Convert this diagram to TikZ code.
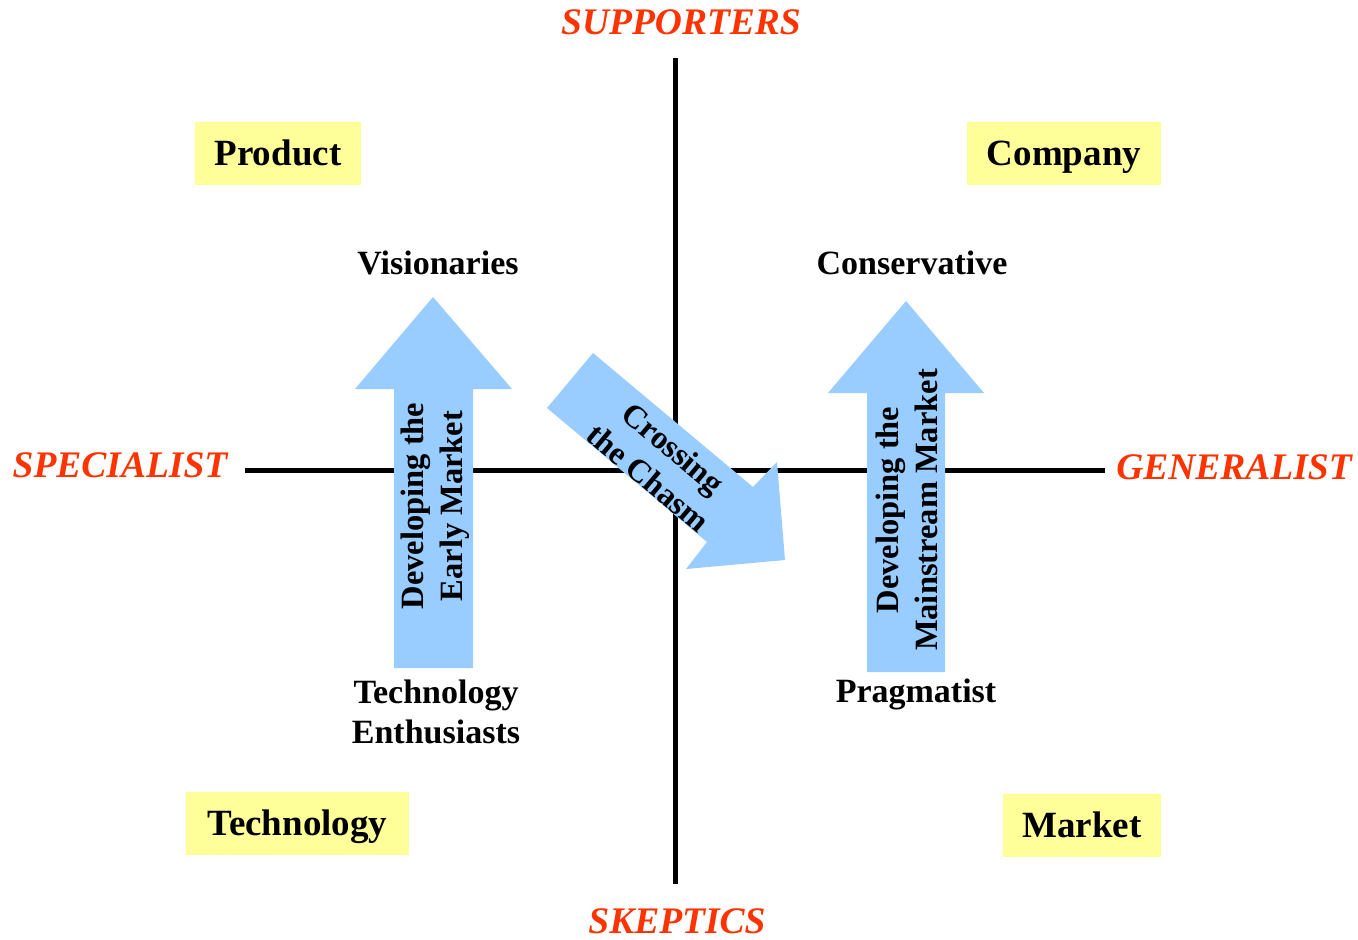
\documentclass[tikz,border=0pt]{standalone}
\usepackage{fontspec}
\setmainfont{Liberation Serif}
\definecolor{axred}{HTML}{FF3300}
\definecolor{boxyel}{HTML}{FFFF99}
\definecolor{arrblue}{HTML}{99CCFF}
\begin{document}
\begin{tikzpicture}[x=1pt,y=-1pt,
  axis/.style={line width=5pt,black},
  axlabel/.style={text=axred,font=\fontsize{37.5}{40}\selectfont\bfseries\itshape,inner sep=0pt},
  quadbox/.style={fill=boxyel,inner sep=0pt,minimum height=63pt,text height=24.4pt,text depth=0pt,font=\fontsize{37}{40}\selectfont\bfseries},
  lbl/.style={inner sep=0pt,font=\fontsize{34}{40}\selectfont\bfseries,align=center},
  onelbl/.style={lbl,text height=22.4pt,text depth=0pt},
  arrtext/.style={inner sep=0pt,font=\fontsize{32.5}{39}\selectfont\bfseries,align=center},
  bigarrow/.style={fill=arrblue,draw=none}]
\useasboundingbox (0,0) rectangle (1358,940);
% axes
\coordinate (vt) at (675,58);
\coordinate (vb) at (675,884);
\coordinate (hl) at (245,470);
\coordinate (hr) at (1105,470);
\draw[axis] (vt) -- (vb);
\draw[axis] (hl) -- (hr);
% axis labels
\node[axlabel] (sup) at (681,22) {SUPPORTERS};
\node[axlabel] (ske) at (677,921) {SKEPTICS};
\node[axlabel] (spe) at (120,465) {SPECIALIST};
\node[axlabel] (gen) at (1234,467) {GENERALIST};
% quadrant boxes
\node[quadbox,minimum width=166pt] (prod) at (278,153.5) {Product};
\node[quadbox,minimum width=194pt] (comp) at (1064,153.5) {Company};
\node[quadbox,minimum width=223pt] (tech) at (297.5,823.5) {Technology};
\node[quadbox,minimum width=158pt] (mark) at (1082,825.5) {Market};
% arrows
\fill[bigarrow] (394,668) -- (394,389) -- (355,389) -- (433,297) -- (512,389) -- (473,389) -- (473,668) -- cycle;
\fill[bigarrow] (867,672) -- (867,393) -- (828,393) -- (906,301) -- (984,393) -- (945,393) -- (945,672) -- cycle;
\fill[bigarrow] (547,408) -- (593,353) -- (753,487) -- (777,462) -- (785,560) -- (686,569) -- (707,542) -- cycle;
% arrow texts
\node[arrtext,rotate=90] (early) at (435,506) {Developing the\\Early Market};
\node[arrtext,rotate=90] (main) at (907,510) {Developing the\\Mainstream Market};
\node[arrtext,rotate=-40] (chasm) at (661,463) {Crossing\\the Chasm};
% segment labels
\node[onelbl] (vis) at (438,263) {Visionaries};
\node[onelbl] (con) at (912,263) {Conservative};
\node[lbl] (ent) at (436,712) {Technology\\Enthusiasts};
\node[onelbl] (pra) at (916,691) {Pragmatist};
\end{tikzpicture}
\end{document}
